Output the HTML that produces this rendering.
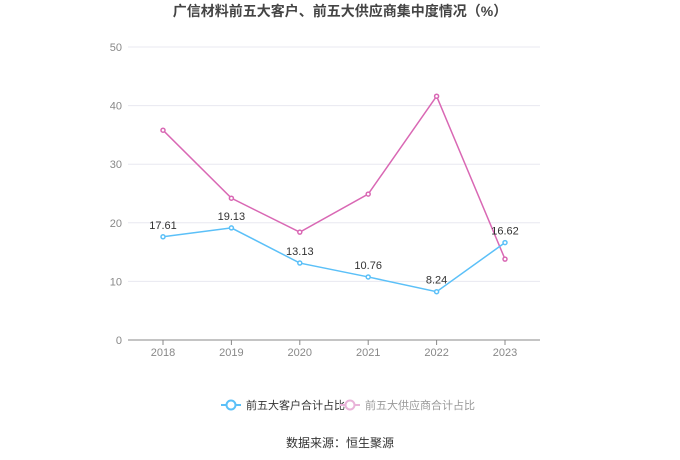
<!DOCTYPE html>
<html><head><meta charset="utf-8"><style>
body{margin:0;background:#fff;}
svg{display:block;font-family:"Liberation Sans","Noto Sans CJK SC",sans-serif;}
</style></head><body>
<svg id="c" width="680" height="460">
<text x="340" y="16" text-anchor="middle" font-size="14" font-weight="bold" fill="#444">广信材料前五大客户、前五大供应商集中度情况（%）</text>
<g id="grid"></g><g id="axes"></g><g id="series"></g>
<g>
<g>
<line x1="221" y1="405" x2="241" y2="405" stroke="#5bc0f8" stroke-width="2"/>
<circle cx="231" cy="405" r="4.5" fill="#fff" stroke="#5bc0f8" stroke-width="2"/>
<text x="246" y="409" font-size="11" fill="#333">前五大客户合计占比</text></g>
<g>
<line x1="340" y1="405" x2="360" y2="405" stroke="#e9b3d9" stroke-width="2"/>
<circle cx="350" cy="405" r="4.5" fill="#fff" stroke="#e9b3d9" stroke-width="2"/>
<text x="365" y="409" font-size="11" fill="#999">前五大供应商合计占比</text></g>
</g>
<text x="340" y="447" text-anchor="middle" font-size="12" fill="#333">数据来源：恒生聚源</text>
</svg>
<script>
const categories=["2018","2019","2020","2021","2022","2023"];
const customerValues=[17.61,19.13,13.13,10.76,8.24,16.62];
const supplierValues=[35.8,24.2,18.4,24.9,41.6,13.8];
const yTicks=[0,10,20,30,40,50];
const NS="http://www.w3.org/2000/svg";
const x=i=>163+i*68.4;
const y=v=>340-v*5.86;
function mk(tag,attrs,parent,txt){const e=document.createElementNS(NS,tag);for(const k in attrs)e.setAttribute(k,attrs[k]);if(txt!==undefined)e.textContent=txt;document.getElementById(parent).appendChild(e);return e;}
yTicks.forEach(t=>{
const g=mk("line",{x1:128,x2:540,y1:y(t),y2:y(t),stroke:t===0?"#888":"#e8e8f0","stroke-width":1},"grid");


const l=mk("text",{x:122,y:y(t)+4,"text-anchor":"end","font-size":11,fill:"#888"},"axes",t);


});
categories.forEach((c,i)=>{
mk("line",{x1:x(i),x2:x(i),y1:340,y2:345,stroke:"#888"},"axes");
const l=mk("text",{x:x(i),y:356,"text-anchor":"middle","font-size":11,fill:"#888"},"axes",c);


});
function series(vals,color,name,labels){
const p=mk("polyline",{points:vals.map((v,i)=>x(i)+","+y(v)).join(" "),fill:"none",stroke:color,"stroke-width":1.5},"series");


vals.forEach((v,i)=>{
const c=mk("circle",{cx:x(i),cy:y(v),r:2,fill:"#fff",stroke:color,"stroke-width":1.5},"series");


if(labels){const t=mk("text",{x:x(i),y:y(v)-8,"text-anchor":"middle","font-size":11,fill:"#333"},"series",v.toFixed(2));

}
});
}
series(supplierValues,"#d968b4","suppliers",false);
series(customerValues,"#5bc0f8","customers",true);
</script>
</body></html>
